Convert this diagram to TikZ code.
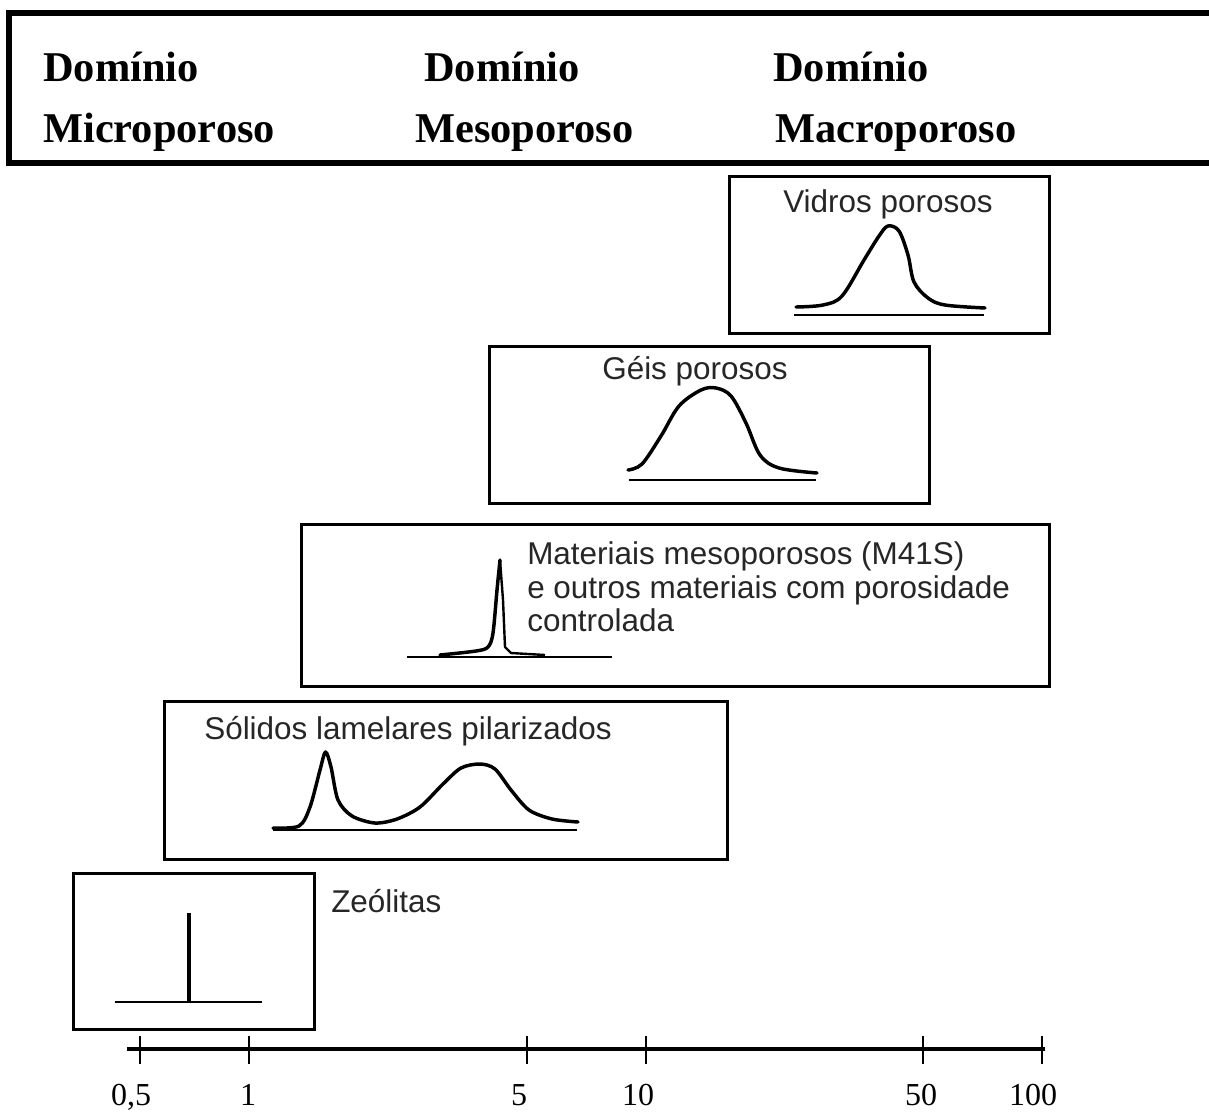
\documentclass[tikz,border=0pt]{standalone}
\usepackage{fontspec}
\setmainfont{Liberation Serif}
\newfontfamily\sansf{Liberation Sans}
\begin{document}
\begin{tikzpicture}[x=0.75pt,y=-0.75pt,
  hdr/.style={anchor=base west,inner sep=0pt,font=\fontsize{31.8}{36}\selectfont\bfseries},
  lbl/.style={anchor=base west,inner sep=0pt,text=black!85,font=\sansf\fontsize{23.6}{28}\selectfont},
  axl/.style={anchor=base,inner sep=0pt,font=\fontsize{24}{28}\selectfont},
  panel/.style={draw,line width=2.2pt,inner sep=0pt,anchor=north west},
  curve/.style={line width=2.6pt,line join=round,line cap=round},
  base/.style={line width=2.1pt}]
\useasboundingbox (0,0) rectangle (1209,1111);
% header frame
\draw[line width=4pt] (1209,13) -- (9,13) -- (9,163) -- (1209,163);
\node[hdr] (d1) at (43,81) {Domínio};
\node[hdr] (d2) at (424,81) {Domínio};
\node[hdr] (d3) at (773,81) {Domínio};
\node[hdr] (m1) at (43,142) {Microporoso};
\node[hdr] (m2) at (415,142) {Mesoporoso};
\node[hdr] (m3) at (775,142) {Macroporoso};
% panels
\node[panel,minimum width=320*0.75pt,minimum height=157*0.75pt] (vid) at (728,175) {};
\node[panel,minimum width=440*0.75pt,minimum height=157*0.75pt] (gei) at (488,345) {};
\node[panel,minimum width=748*0.75pt,minimum height=162*0.75pt] (mat) at (300,523) {};
\node[panel,minimum width=563*0.75pt,minimum height=158*0.75pt] (sol) at (163,700) {};
\node[panel,minimum width=241*0.75pt,minimum height=156*0.75pt] (zeo) at (72,872) {};
% labels
\node[lbl] (tvid) at (783,212) {Vidros porosos};
\node[lbl] (tgei) at (602,379) {Géis porosos};
\node[lbl] (tmat1) at (527,564) {Materiais mesoporosos (M41S)};
\node[lbl] (tmat2) at (527,598) {e outros materiais com porosidade};
\node[lbl] (tmat3) at (527,631) {controlada};
\node[lbl] (tsol) at (204,739) {Sólidos lamelares pilarizados};
\node[lbl] (tzeo) at (331,912) {Zeólitas};
% curves: Vidros
\draw[base] (794,315) -- (984,315);
\draw[curve] plot[smooth,tension=0.55] coordinates {(796,307) (823,305) (842,296) (864,260) (879,236) (888,226) (899,231) (908,255) (914,282) (928,298) (945,305) (985,308)};
% Geis
\draw[base] (629,480) -- (816,480);
\draw[curve] plot[smooth,tension=0.55] coordinates {(628,470) (642,464) (661,436) (679,406) (701,390) (716,388) (731,396) (746,423) (760,455) (779,468) (817,473)};
% Materiais
\draw[base] (407,657) -- (612,657);
\draw[curve] plot[smooth,tension=0.5] coordinates {(440,655) (476,651) (488,647) (493,633) (497,590) (500,560)};
\draw[line width=1.8pt,line join=round] (500,560) -- (503,600) -- (505,647) -- (511,653) -- (545,655);
% Solidos
\draw[base] (273,830) -- (577,830);
\draw[curve] plot[smooth,tension=0.5] coordinates {(273,828) (299,826) (310,807) (320,770) (325.5,752) (331,767) (338,800) (352,816) (375,823) (397,819) (420,807) (443,784) (461,768) (480,764) (495,769) (511,790) (529,810) (552,819) (578,822)};
% Zeolitas
\draw[base] (115,1002) -- (262,1002);
\draw[line width=2.6pt] (189,1002) -- (189,913);
% axis
\draw[line width=2.6pt] (127,1049) -- (1045,1049);
\foreach \t/\l/\lx [count=\i] in {140/0{,}5/131,249/1/248,527/5/519,646/10/638,923/50/921,1042/100/1033}{
  \draw[line width=2pt] (\t,1036) -- (\t,1064);
  \node[axl] (ax\i) at (\lx,1105) {\l};
}
\end{tikzpicture}
\end{document}
